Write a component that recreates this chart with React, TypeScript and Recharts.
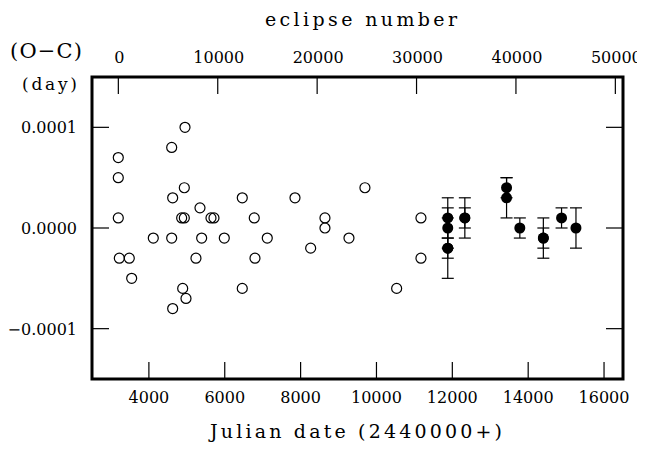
import React from 'react';
import { ScatterChart, Scatter, XAxis, YAxis, ErrorBar, ReferenceArea } from 'recharts';

// Tick labels
const jdTicks = [4000, 6000, 8000, 10000, 12000, 14000, 16000];
const epochTicks = [0, 10000, 20000, 30000, 40000, 50000];
const ocTicks = [-0.0001, 0, 0.0001];

// Open circles (earlier timings): Julian date (2440000+) and O-C (day)
const openJD = [4952, 4601, 3193, 3193, 4934, 4627, 6462, 7852, 5347, 3193, 4864, 4934, 5637, 5716, 6778, 8642, 8642, 4116, 4601, 5391, 5988, 7121, 9275, 8265, 3220, 3483, 5241, 6797, 3546, 4891, 6462, 4978, 4627, 9696, 10532, 11173, 11173];
const openOC = [0.0001, 0.00008, 0.00007, 0.00005, 0.00004, 0.00003, 0.00003, 0.00003, 0.00002, 0.00001, 0.00001, 0.00001, 0.00001, 0.00001, 0.00001, 0.00001, 0.0, -0.00001, -0.00001, -0.00001, -0.00001, -0.00001, -0.00001, -0.00002, -0.00003, -0.00003, -0.00003, -0.00003, -0.00005, -0.00006, -0.00006, -0.00007, -0.00008, 0.00004, -0.00006, 0.00001, -0.00003];

// Filled circles (new timings) with errors
const filledJD = [11880, 11880, 11880, 11880, 12330, 12330, 13430, 13430, 13780, 14400, 14400, 14880, 15260];
const filledOC = [0.00001, 0.0, -0.00002, -0.00002, 0.00001, 0.00001, 0.00004, 0.00003, 0.0, -0.00001, -0.00001, 0.00001, 0.0];
const filledErr = [0.00002, 0.00002, 0.00001, 0.00003, 0.00002, 0.00001, 0.00001, 0.00002, 0.00001, 0.00002, 0.00001, 0.00001, 0.00002];

const openData = openJD.map((jd, i) => ({ jd, oc: openOC[i] }));
const filledData = filledJD.map((jd, i) => ({ jd, oc: filledOC[i], err: filledErr[i] }));
const epochAnchor = epochTicks.map((ep) => ({ ep, r: 0 }));

const JD_DOMAIN: [number, number] = [2500, 16500];
const EP_DOMAIN: [number, number] = [-2650, 50770];
const OC_DOMAIN: [number, number] = [-0.00015, 0.00015];

const W = 637;
const H = 438;
const FONT = '"DejaVu Serif", serif';
const TICK_LEN = 17;

const fmtOC = (v: number) => {
  const s = Math.abs(v).toFixed(4);
  return v < -1e-12 ? '\u2212' + s : s;
};

const BottomTick = (props: any) => {
  const { x, y, payload } = props;
  return (
    <g>
      <line x1={x} y1={y} x2={x} y2={y - TICK_LEN} stroke="#000" strokeWidth={1.2} />
      <text x={x} y={y + 24} textAnchor="middle" fontFamily={FONT} fontSize={16} fill="#000">
        {payload.value}
      </text>
    </g>
  );
};

const TopTick = (props: any) => {
  const { x, y, payload } = props;
  return (
    <g>
      <line x1={x} y1={y} x2={x} y2={y + TICK_LEN} stroke="#000" strokeWidth={1.2} />
      <text x={x + 1} y={y - 14} textAnchor="middle" fontFamily={FONT} fontSize={16} fill="#000">
        {payload.value}
      </text>
    </g>
  );
};

const LeftTick = (props: any) => {
  const { x, y, payload } = props;
  return (
    <g>
      <line x1={x} y1={y} x2={x + TICK_LEN} y2={y} stroke="#000" strokeWidth={1.2} />
      <text x={x - 15} y={y + 6} textAnchor="end" fontFamily={FONT} fontSize={16} fill="#000">
        {fmtOC(payload.value)}
      </text>
    </g>
  );
};

const RightTick = (props: any) => {
  const { x, y } = props;
  return <line x1={x} y1={y} x2={x - TICK_LEN} y2={y} stroke="#000" strokeWidth={1.2} />;
};

const OpenDot = (p: any) => (
  <circle cx={p.cx} cy={p.cy} r={5} fill="none" stroke="#000" strokeWidth={1.2} />
);
const FilledDot = (p: any) => <circle cx={p.cx} cy={p.cy} r={5.5} fill="#000" stroke="none" />;
const NoDot = () => <g />;

export default function App() {
  return (
    <div style={{ position: 'relative', width: W, height: H }}>
      <ScatterChart width={W} height={H} margin={{ top: 0, right: 0, bottom: 0, left: 0 }}>
        <XAxis
          xAxisId="jd"
          dataKey="jd"
          type="number"
          orientation="bottom"
          domain={JD_DOMAIN}
          ticks={jdTicks}
          interval={0}
          height={H - 371}
          axisLine={false}
          tickLine={false}
          tickSize={0}
          tickMargin={0}
          tick={<BottomTick />}
          allowDataOverflow
        />
        <XAxis
          xAxisId="ep"
          dataKey="ep"
          type="number"
          orientation="top"
          domain={EP_DOMAIN}
          ticks={epochTicks}
          interval={0}
          height={69}
          axisLine={false}
          tickLine={false}
          tickSize={0}
          tickMargin={0}
          tick={<TopTick />}
          allowDataOverflow
        />
        <YAxis
          yAxisId="oc"
          dataKey="oc"
          type="number"
          orientation="left"
          domain={OC_DOMAIN}
          ticks={ocTicks}
          interval={0}
          width={84}
          axisLine={false}
          tickLine={false}
          tickSize={0}
          tickMargin={0}
          tick={<LeftTick />}
          allowDataOverflow
        />
        <YAxis
          yAxisId="r"
          dataKey="r"
          type="number"
          orientation="right"
          domain={OC_DOMAIN}
          ticks={ocTicks}
          interval={0}
          width={W - 615}
          axisLine={false}
          tickLine={false}
          tickSize={0}
          tickMargin={0}
          tick={<RightTick />}
          allowDataOverflow
        />
        <Scatter
          data={epochAnchor}
          xAxisId="ep"
          yAxisId="r"
          shape={<NoDot />}
          isAnimationActive={false}
        />
        <Scatter
          data={openData}
          xAxisId="jd"
          yAxisId="oc"
          shape={<OpenDot />}
          isAnimationActive={false}
        />
        <Scatter
          data={filledData}
          xAxisId="jd"
          yAxisId="oc"
          shape={<FilledDot />}
          isAnimationActive={false}
        >
          <ErrorBar dataKey="err" direction="y" width={6} stroke="#000" strokeWidth={1.2} isAnimationActive={false} />
        </Scatter>
        <ReferenceArea
          xAxisId="jd"
          yAxisId="oc"
          x1={JD_DOMAIN[0]}
          x2={JD_DOMAIN[1]}
          y1={OC_DOMAIN[0]}
          y2={OC_DOMAIN[1]}
          fill="none"
          fillOpacity={0}
          stroke="#000"
          strokeWidth={3}
          ifOverflow="visible"
        />
      </ScatterChart>
      <svg
        width={W}
        height={H}
        style={{ position: 'absolute', left: 0, top: 0, pointerEvents: 'none' }}
      >
        <text x={353} y={18} textAnchor="middle" fontFamily={FONT} fontSize={19} textLength={192} lengthAdjust="spacing">
          eclipse number
        </text>
        <text x={2} y={50} fontFamily={FONT} fontSize={21} textLength={72} lengthAdjust="spacing">
          (O{'\u2212'}C)
        </text>
        <text x={14} y={82} fontFamily={FONT} fontSize={17} textLength={55} lengthAdjust="spacing">
          (day)
        </text>
        <text x={348} y={430} textAnchor="middle" fontFamily={FONT} fontSize={19} textLength={292} lengthAdjust="spacing">
          Julian date (2440000+)
        </text>
      </svg>
    </div>
  );
}
